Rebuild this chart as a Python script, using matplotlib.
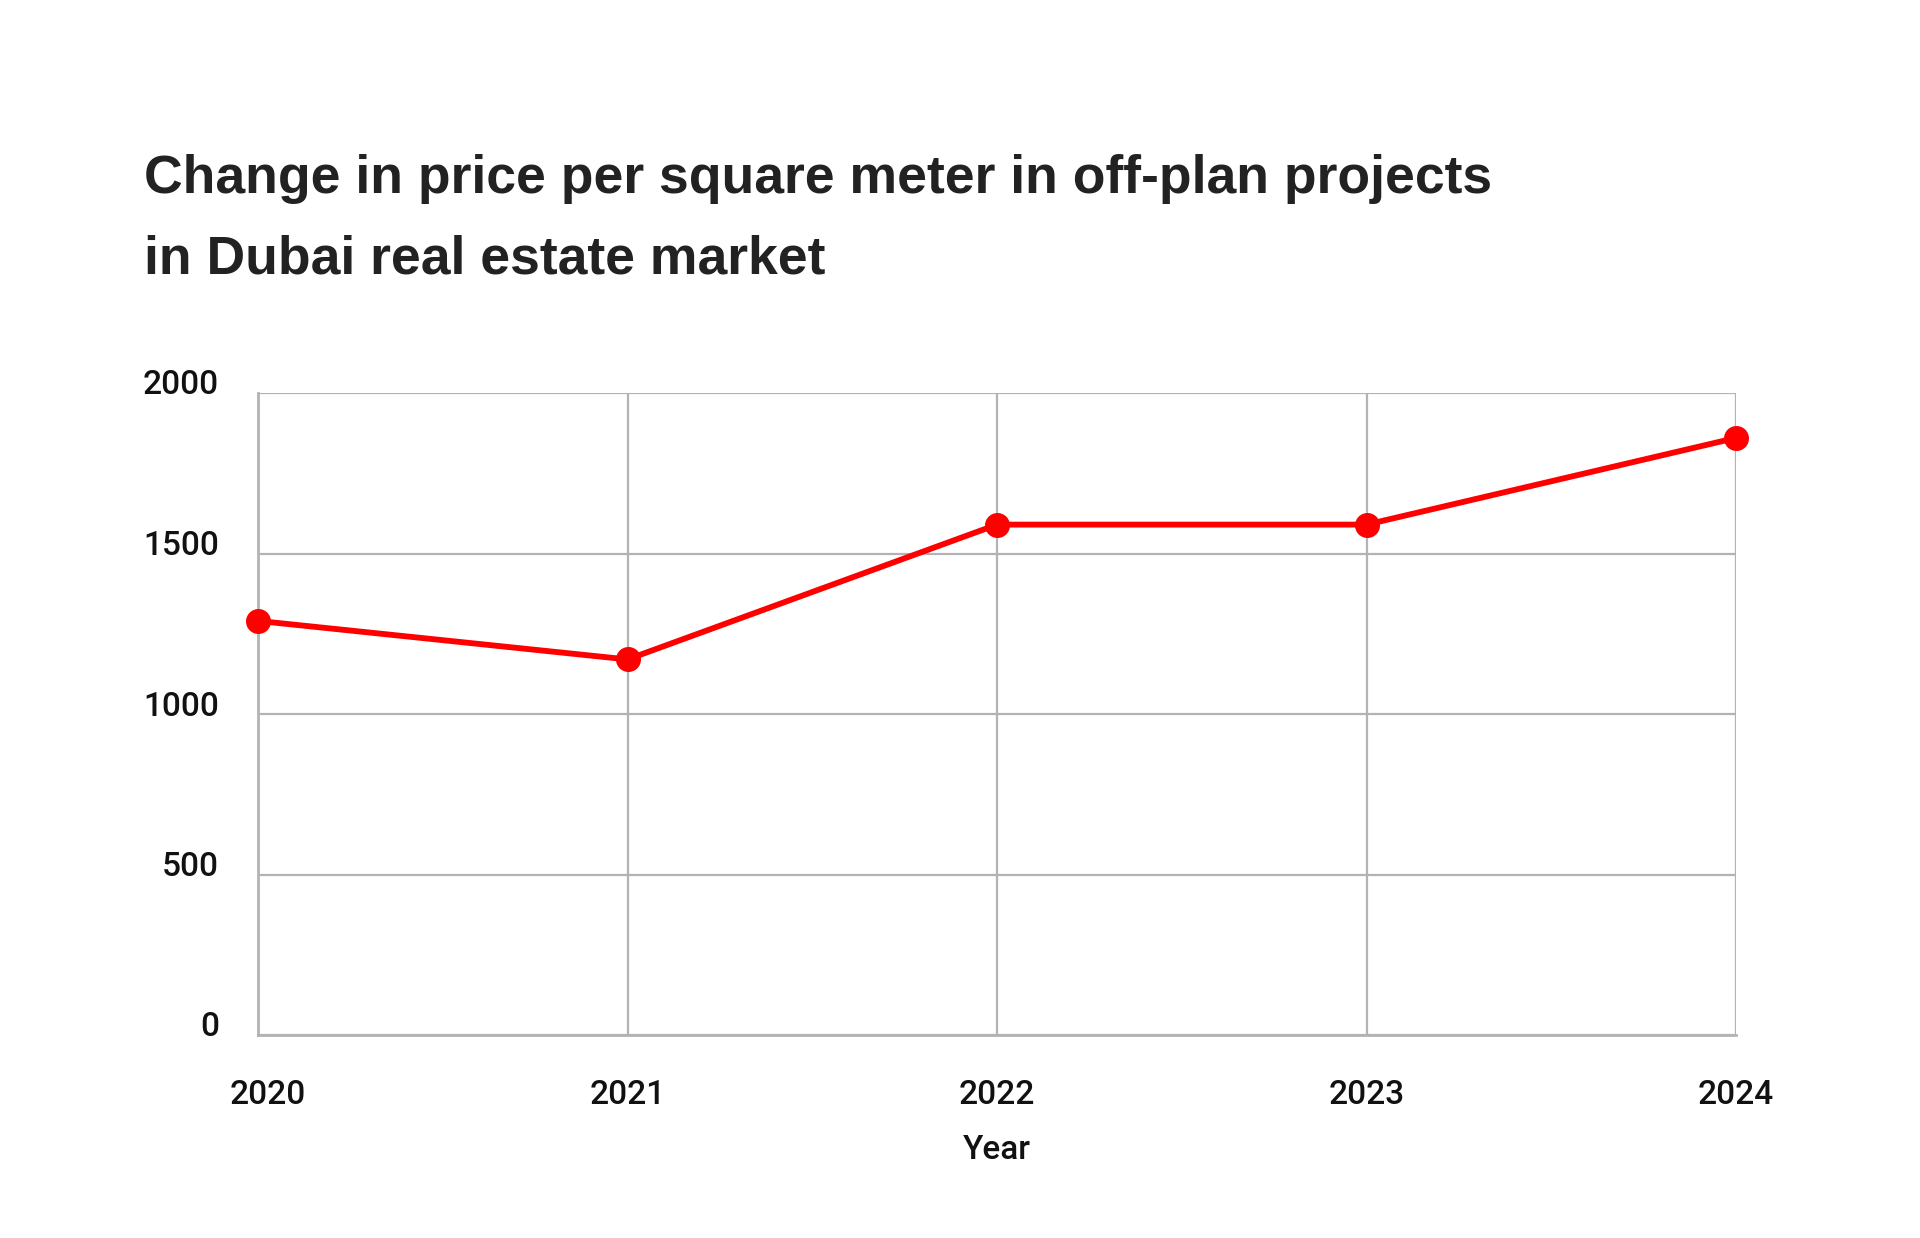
import matplotlib
matplotlib.use("Agg")
import matplotlib.pyplot as plt
import matplotlib.transforms as mtransforms

years = [2020, 2021, 2022, 2023, 2024]
price = [1290, 1170, 1590, 1590, 1860]
yticks = [0, 500, 1000, 1500, 2000]
title_lines = ["Change in price per square meter in off-plan projects",
               "in Dubai real estate market"]
xlabel = "Year"

W, H = 1920, 1238
fig = plt.figure(figsize=(W / 100, H / 100), dpi=100)
fig.patch.set_facecolor("white")

ax = fig.add_axes([258 / W, 1 - 1035 / H, (1736 - 258) / W, (1035 - 393) / H])
grid_c = "#b3b3b3"
ax.plot(years, price, color="#ff0000", linewidth=4.2, marker="o",
        markersize=18, markeredgewidth=0, zorder=5, clip_on=False)

ax.set_xlim(years[0], years[-1])
ax.set_ylim(0, 2000)
ax.set_xticks(years)
ax.set_yticks(yticks)
ax.set_xticklabels([str(y) for y in years])
ax.grid(True, color=grid_c, linewidth=1.6)
ax.set_axisbelow(True)
for s in ["top", "right"]:
    ax.spines[s].set_visible(False)
for s in ["left", "bottom"]:
    ax.spines[s].set_color(grid_c)
    ax.spines[s].set_linewidth(2)
ax.tick_params(axis="both", length=0, colors="#111111", labelsize=24)
ax.tick_params(axis="x", pad=32)
ax.tick_params(axis="y", pad=28)
for lab in ax.get_xticklabels() + ax.get_yticklabels():
    lab.set_fontfamily("Roboto")
    lab.set_fontweight("medium")
offset = mtransforms.ScaledTranslation(0, 11 / 100, fig.dpi_scale_trans)
for lab in ax.get_yticklabels():
    lab.set_transform(lab.get_transform() + offset)
first = ax.get_xticklabels()[0]
first.set_transform(first.get_transform() +
                    mtransforms.ScaledTranslation(10 / 100, 0, fig.dpi_scale_trans))

ax.set_xlabel(xlabel, fontsize=24, family="Roboto", fontweight="medium",
              color="#111111", labelpad=16)

fig.text(144 / W, 1 - 179 / H, title_lines[0], fontsize=38.5, fontweight="bold",
         family="Liberation Sans", color="#222222", va="center", ha="left")
fig.text(144 / W, 1 - 260 / H, title_lines[1], fontsize=38.5, fontweight="bold",
         family="Liberation Sans", color="#222222", va="center", ha="left")

fig.savefig("out.png", dpi=100, facecolor="white")
